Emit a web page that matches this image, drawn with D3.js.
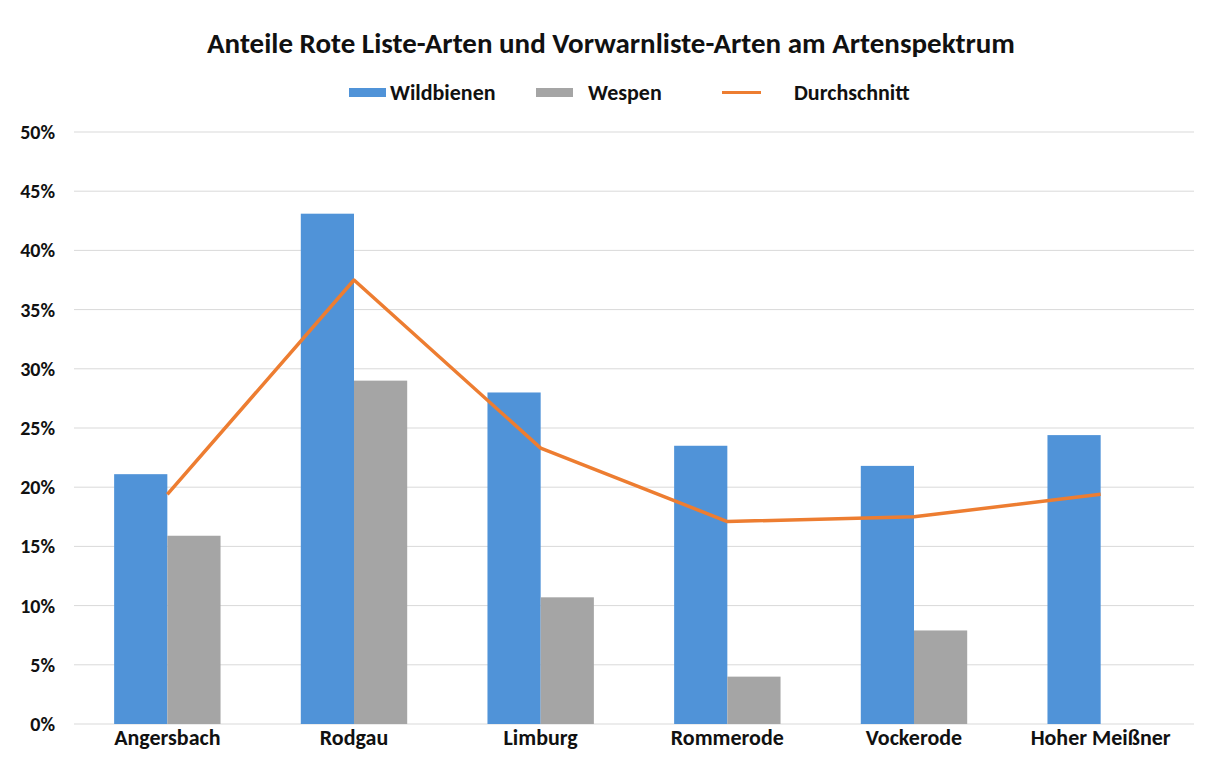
<!DOCTYPE html>
<meta charset="utf-8">
<style>
body { margin: 0; background: #fff; }
svg text {
	font-family: Carlito, "Liberation Sans Narrow", "DejaVu Sans Condensed", "Open Sans", sans-serif;
	font-weight: bold;
	fill: #111;
}
.grid line { stroke: #d9d9d9; stroke-width: 1px; }
</style>
<svg width="1211" height="758"></svg>
<script src="https://d3js.org/d3.v7.min.js"></script>
<script>

// chart values (percent)
var categories = ["Angersbach", "Rodgau", "Limburg", "Rommerode", "Vockerode", "Hoher Meißner"]
var wildbienen = [21.1, 43.1, 28.0, 23.5, 21.8, 24.4]
var wespen = [15.9, 29.0, 10.7, 4.0, 7.9, null]
var durchschnitt = [19.4, 37.5, 23.3, 17.1, 17.5, 19.4]
var yTicks = [0, 5, 10, 15, 20, 25, 30, 35, 40, 45, 50]

var seriesNames = ["Wildbienen", "Wespen"]
var colours = { Wildbienen: "#5093d8", Wespen: "#a5a5a5", Durchschnitt: "#ed7d31" }

var svg = d3.select("svg")

var x = d3.scaleBand()
	.domain(categories)
	.range([74, 1194])
	.paddingInner(0.43)
	.paddingOuter(0.215)

var xSub = d3.scaleBand()
	.domain(seriesNames)
	.range([0, x.bandwidth()])

var y = d3.scaleLinear()
	.domain([0, 50])
	.range([724, 132])

// gridlines
svg.append("g").attr("class", "grid")
	.selectAll("line")
	.data(yTicks)
	.enter().append("line")
	.attr("x1", 74).attr("x2", 1194)
	.attr("y1", d => y(d)).attr("y2", d => y(d))

// y axis labels
var yAxis = d3.axisLeft(y).tickValues(yTicks).tickSize(0).tickPadding(0)
	.tickFormat(d => d + "%")
svg.append("g")
	.attr("transform", "translate(55,0)")
	.call(yAxis)
	.call(g => g.select(".domain").remove())
	.selectAll("text")
	.style("font-size", "20px")

// bars
var rows = categories.map(function (c, i) {
	return { cat: c, Wildbienen: wildbienen[i], Wespen: wespen[i] }
})

svg.append("g").selectAll("g")
	.data(rows)
	.enter().append("g")
	.attr("transform", d => "translate(" + x(d.cat) + ",0)")
	.selectAll("rect")
	.data(d => seriesNames.filter(s => d[s] != null).map(s => ({ key: s, value: d[s] })))
	.enter().append("rect")
	.attr("x", d => xSub(d.key))
	.attr("width", xSub.bandwidth())
	.attr("y", d => y(d.value))
	.attr("height", d => y(0) - y(d.value))
	.attr("fill", d => colours[d.key])

// average line
var line = d3.line()
	.x((d, i) => x(categories[i]) + x.bandwidth() / 2)
	.y(d => y(d))

svg.append("path")
	.datum(durchschnitt)
	.attr("d", line)
	.attr("fill", "none")
	.attr("stroke", colours.Durchschnitt)
	.attr("stroke-width", 3.5)
	.attr("stroke-linejoin", "round")

// x axis labels
var xAxis = d3.axisBottom(x).tickSize(0).tickPadding(0)
svg.append("g")
	.attr("transform", "translate(0,729)")
	.call(xAxis)
	.call(g => g.select(".domain").remove())
	.selectAll("text")
	.style("font-size", "22px")

// title
svg.append("text")
	.attr("x", 611).attr("y", 53)
	.attr("text-anchor", "middle")
	.style("font-size", "29px")
	.text("Anteile Rote Liste-Arten und Vorwarnliste-Arten am Artenspektrum")

// legend
var legend = svg.append("g")
legend.append("rect").attr("x", 349).attr("y", 88).attr("width", 37).attr("height", 9).attr("fill", colours.Wildbienen)
legend.append("text").attr("x", 390).attr("y", 100).style("font-size", "22px").text("Wildbienen")
legend.append("rect").attr("x", 536).attr("y", 88).attr("width", 37).attr("height", 9).attr("fill", colours.Wespen)
legend.append("text").attr("x", 588).attr("y", 100).style("font-size", "22px").text("Wespen")
legend.append("line").attr("x1", 722).attr("x2", 761).attr("y1", 92.5).attr("y2", 92.5)
	.attr("stroke", colours.Durchschnitt).attr("stroke-width", 3)
legend.append("text").attr("x", 794).attr("y", 100).style("font-size", "22px").text("Durchschnitt")

</script>
